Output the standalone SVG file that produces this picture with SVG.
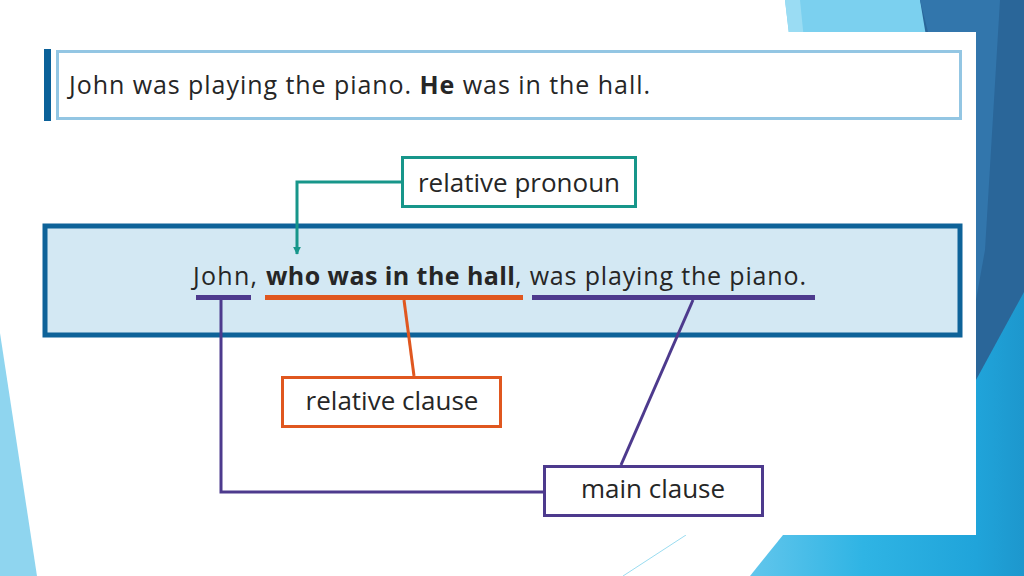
<svg xmlns="http://www.w3.org/2000/svg" width="1024" height="576" viewBox="0 0 1024 576">
  <defs>
    <style>
      .txt { font-family: "Open Sans", "Liberation Sans", sans-serif; font-size: 25px; fill: #262626; }
      .b { font-weight: bold; }
      .lbl { text-anchor: middle; font-size: 26px; }
      .box { fill: #ffffff; stroke-width: 3; }
      .conn { fill: none; stroke-width: 3; }
    </style>
    <linearGradient id="gBottom" x1="0" y1="0" x2="1" y2="0">
      <stop offset="0" stop-color="#62C6EC"/>
      <stop offset="0.5" stop-color="#2FB4E4"/>
      <stop offset="1" stop-color="#20A4DA"/>
    </linearGradient>
    <linearGradient id="gRight" x1="0" y1="0" x2="1" y2="0">
      <stop offset="0" stop-color="#20A4DA"/>
      <stop offset="1" stop-color="#1D97CD"/>
    </linearGradient>
    <marker id="arrTeal" viewBox="0 0 10 10" refX="9" refY="5" markerWidth="8" markerHeight="8" markerUnits="userSpaceOnUse" orient="auto">
      <path d="M0,0 L10,5 L0,10 Z" fill="#17968A"/>
    </marker>
  </defs>

  <!-- background decoration -->
  <rect x="0" y="0" width="1024" height="576" fill="#ffffff"/>
  <polygon points="785,0 922,0 930,60 792,60" fill="#7BD0EF"/>
  <polygon points="785,0 800,0 806,60 792,60" fill="#9ADCF3"/>
  <polygon points="920,0 1024,0 1024,400 976,400 930,60" fill="#2A6699"/>
  <polygon points="920,0 1000,0 985,250 976,300 935,60" fill="#3276AC"/>
  <polygon points="976,380 1024,292 1024,576 976,576" fill="url(#gRight)"/>
  <polygon points="750,576 783,535 976,535 976,576" fill="url(#gBottom)"/>
  <polygon points="0,333 37,576 0,576" fill="#8FD5EF"/>
  <line x1="623" y1="576" x2="686" y2="535" stroke="#9ADCF0" stroke-width="1"/>

  <!-- white panel -->
  <rect x="40" y="32" width="936" height="503" fill="#ffffff"/>

  <!-- top sentence box -->
  <g id="sentence1">
    <rect x="44" y="49" width="7" height="72" fill="#0B6199"/>
    <rect x="57.5" y="51.5" width="903" height="67" fill="#ffffff" stroke="#93C6E3" stroke-width="3"/>
    <text class="txt" x="69" y="94" textLength="581" lengthAdjust="spacing">John was playing the piano. <tspan class="b">He</tspan> was in the hall.</text>
  </g>

  <!-- main sentence box -->
  <g id="sentence2">
    <rect x="45" y="226" width="915" height="109" fill="#D3E8F3" stroke="#0E6399" stroke-width="5"/>
    <text class="txt" x="193" y="285"><tspan x="193" textLength="64" lengthAdjust="spacing">John,</tspan><tspan class="b" x="266" textLength="249" lengthAdjust="spacing">who was in the hall</tspan><tspan x="515" textLength="291" lengthAdjust="spacing">, was playing the piano.</tspan></text>
    <rect x="196" y="295" width="55" height="5" fill="#4D3A8D"/>
    <rect x="265" y="295" width="258" height="5" fill="#E0571F"/>
    <rect x="532" y="295" width="283" height="5" fill="#4D3A8D"/>
  </g>

  <!-- labels -->
  <g id="relative-pronoun">
    <rect class="box" x="402.5" y="157.5" width="233" height="49" stroke="#17968A"/>
    <text class="txt lbl" x="519" y="192">relative pronoun</text>
  </g>
  <g id="relative-clause">
    <rect class="box" x="282.5" y="377.5" width="218" height="49" stroke="#E0571F"/>
    <text class="txt lbl" x="392" y="410">relative clause</text>
  </g>
  <g id="main-clause">
    <rect class="box" x="544.5" y="466.5" width="218" height="49" stroke="#4D3A8D"/>
    <text class="txt lbl" x="653" y="498">main clause</text>
  </g>

  <!-- connectors -->
  <g id="connectors">
    <polyline class="conn" points="401,182 297,182 297,254" stroke="#17968A" marker-end="url(#arrTeal)"/>
    <line class="conn" x1="404" y1="300" x2="414" y2="376" stroke="#E0571F"/>
    <polyline class="conn" points="221,300 221,492 543,492" stroke="#4D3A8D"/>
    <line class="conn" x1="693" y1="300" x2="621" y2="465" stroke="#4D3A8D"/>
  </g>
</svg>
